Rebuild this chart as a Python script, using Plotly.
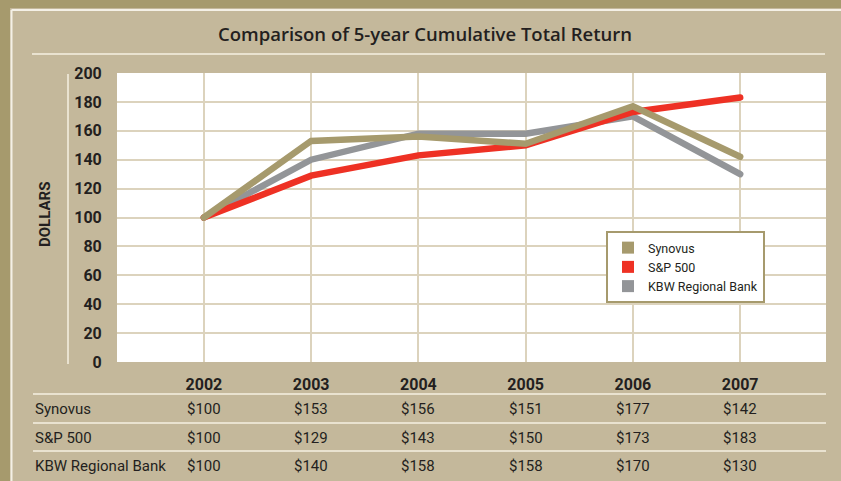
import plotly.graph_objects as go

years = [2002, 2003, 2004, 2005, 2006, 2007]
series_names = ["Synovus", "S&P 500", "KBW Regional Bank"]
synovus = [100, 153, 156, 151, 177, 142]
sp500 = [100, 129, 143, 150, 173, 183]
kbw = [100, 140, 158, 158, 170, 130]
y_ticks = [0, 20, 40, 60, 80, 100, 120, 140, 160, 180, 200]

values = {"Synovus": synovus, "S&P 500": sp500, "KBW Regional Bank": kbw}
colors = {"Synovus": "#A69A6D", "S&P 500": "#EE3124", "KBW Regional Bank": "#939598"}

BG = "#C4B89B"
GRID = "#DCD3BD"
FRAME = "#A69A6D"
TXT = "#231F20"
FONT = "Roboto, Liberation Sans, sans-serif"

W, H = 841, 481
L, R, T, B = 117, 15, 73, 119
PW, PH = W - L - R, H - T - B


def px(xp):
    return (xp - L) / PW


def py(yp):
    return (H - B - yp) / PH


fig = go.Figure()

# data lines (draw order: gray, red, tan on top)
for name in ["KBW Regional Bank", "S&P 500", "Synovus"]:
    fig.add_trace(go.Scatter(
        x=years, y=values[name], mode="lines", name=name,
        line=dict(color=colors[name], width=6.5),
        showlegend=False, hoverinfo="skip",
    ))

# legend entries with square swatches
for name in series_names:
    fig.add_trace(go.Scatter(
        x=[None], y=[None], mode="markers", name=name,
        marker=dict(symbol="square", size=16, color=colors[name]),
        showlegend=True,
    ))

shapes = []
# outer frame
shapes.append(dict(type="rect", xref="paper", yref="paper",
                   x0=px(0), x1=px(10), y0=py(H), y1=py(0),
                   fillcolor=FRAME, line=dict(width=0), layer="below"))
shapes.append(dict(type="rect", xref="paper", yref="paper",
                   x0=px(0), x1=px(W), y0=py(8), y1=py(0),
                   fillcolor=FRAME, line=dict(width=0), layer="below"))
shapes.append(dict(type="line", xref="paper", yref="paper",
                   x0=px(11.5), x1=px(W), y0=py(10), y1=py(10),
                   line=dict(color="#F4F0E6", width=2)))
shapes.append(dict(type="line", xref="paper", yref="paper",
                   x0=px(11.5), x1=px(11.5), y0=py(10), y1=py(H),
                   line=dict(color="#F4F0E6", width=2)))
# title underline
shapes.append(dict(type="line", xref="paper", yref="paper",
                   x0=px(32), x1=px(825), y0=py(54), y1=py(54),
                   line=dict(color="#E9E2D0", width=2)))
# vertical light line left of y ticks
shapes.append(dict(type="line", xref="paper", yref="paper",
                   x0=px(68), x1=px(68), y0=py(74), y1=py(364),
                   line=dict(color="#E9E2D0", width=2)))
# table separators
for yy in [394, 423, 451]:
    shapes.append(dict(type="line", xref="paper", yref="paper",
                       x0=px(33), x1=px(826), y0=py(yy), y1=py(yy),
                       line=dict(color="#E9E2D0", width=2)))

annotations = []
annotations.append(dict(text="Comparison of 5-year Cumulative Total Return",
                        xref="paper", yref="paper", x=px(425), y=py(33),
                        xanchor="center", yanchor="middle", showarrow=False,
                        font=dict(family="Open Sans, sans-serif", size=18.5, color=TXT, weight=600)))
annotations.append(dict(text="<b>DOLLARS</b>", xref="paper", yref="paper",
                        x=px(45), y=py(215), textangle=-90, showarrow=False,
                        xanchor="center", yanchor="middle",
                        font=dict(family=FONT, size=15, color=TXT)))

row_y = [409, 438, 466]
for name, ry in zip(series_names, row_y):
    annotations.append(dict(text=name, xref="paper", yref="paper",
                            x=px(33), y=py(ry), xanchor="left", yanchor="middle",
                            showarrow=False, font=dict(family=FONT, size=15, color=TXT)))
    for yr, v in zip(years, values[name]):
        annotations.append(dict(text=f"${v}", xref="x", yref="paper",
                                x=yr, y=py(ry), xanchor="center", yanchor="middle",
                                showarrow=False, font=dict(family=FONT, size=15, color=TXT)))

fig.update_layout(
    width=W, height=H,
    margin=dict(l=L, r=R, t=T, b=B, pad=0),
    paper_bgcolor=BG, plot_bgcolor="white",
    shapes=shapes, annotations=annotations,
    showlegend=True,
    legend=dict(x=px(606), y=py(231), xanchor="left", yanchor="top",
                bgcolor="white", bordercolor=FRAME, borderwidth=2,
                font=dict(family=FONT, size=12.5, color=TXT),
                itemsizing="constant"),
    xaxis=dict(range=[2001.19, 2007.8], tickvals=years, ticktext=[f"<b>{y}</b>" for y in years],
               showgrid=True, gridcolor=GRID, gridwidth=2, zeroline=False,
               ticks="outside", ticklen=8, tickcolor="rgba(0,0,0,0)",
               tickfont=dict(family=FONT, size=16, color=TXT), showline=False,
               fixedrange=True),
    yaxis=dict(range=[0, 200], tickvals=y_ticks, ticktext=[f"<b>{t}</b>" for t in y_ticks],
               showgrid=True, gridcolor=GRID, gridwidth=2, zeroline=False,
               ticks="outside", ticklen=11, tickcolor="rgba(0,0,0,0)",
               tickfont=dict(family=FONT, size=16, color=TXT), showline=False,
               fixedrange=True),
)

fig.write_html(
    "out.html",
    config={"displayModeBar": False},
    post_script=(
        "document.body.style.margin='0';document.documentElement.style.margin='0';"
        "document.querySelectorAll('.scatterlayer .js-line').forEach(function(p){"
        "p.style.strokeLinecap='round';});"
    ),
)
